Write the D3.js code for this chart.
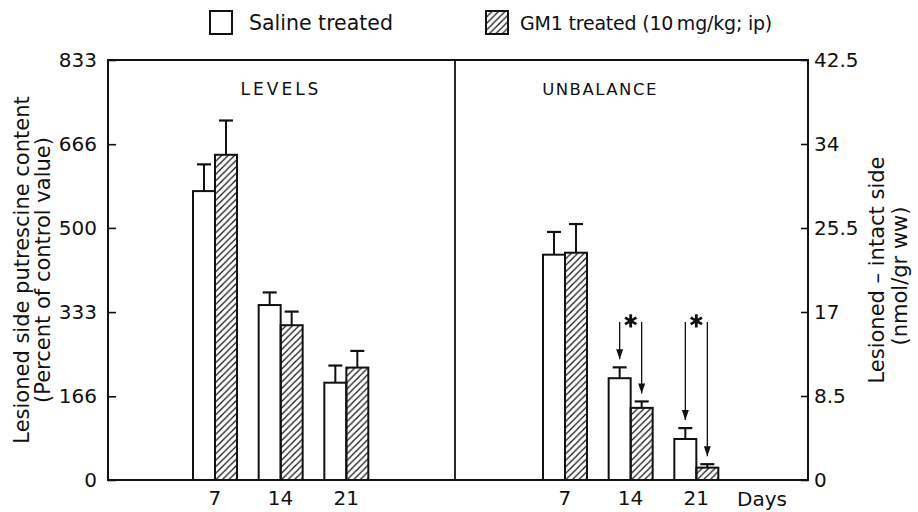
<!DOCTYPE html>
<html>
<head>
<meta charset="utf-8">
<script src="https://cdn.jsdelivr.net/npm/d3@7"></script>
<style>
  body { margin: 0; background: #fff; }
  text { font-family: "DejaVu Sans", sans-serif; fill: #111; }
</style>
</head>
<body>
<div id="chart"></div>
<script>
// values
var days = [7, 14, 21];
var seriesNames = ["saline", "gm1"];
var legendLabels = ["Saline treated", "GM1 treated (10\u2009mg/kg; ip)"];

var levelsSaline = [573, 347, 193];
var levelsSalineSem = [53, 25, 34];
var levelsGM1 = [645, 307, 223];
var levelsGM1Sem = [68, 27, 33];

var unbalSaline = [22.8, 10.3, 4.15];
var unbalSalineSem = [2.3, 1.1, 1.1];
var unbalGM1 = [23.0, 7.3, 1.25];
var unbalGM1Sem = [2.9, 0.65, 0.35];

var sigDays = [14, 21];
var sigArrowTop = 16;

var leftTicks = [0, 166, 333, 500, 666, 833];
var rightTicks = [0, 8.5, 17, 25.5, 34, 42.5];

var width = 918, height = 512;
var margin = {top: 60, right: 110, bottom: 32, left: 108};
var plotRight = width - margin.right,
    plotBottom = height - margin.bottom,
    divider = 455;

var svg = d3.select("#chart").append("svg")
    .attr("width", width)
    .attr("height", height);

var defs = svg.append("defs");
defs.append("pattern")
    .attr("id", "hatch")
    .attr("patternUnits", "userSpaceOnUse")
    .attr("width", 6.5)
    .attr("height", 6.5)
  .append("path")
    .attr("d", "M-1,1 l2,-2 M0,6.5 l6.5,-6.5 M5.5,7.5 l2,-2")
    .attr("stroke", "#111")
    .attr("stroke-width", 1.2);
defs.append("marker")
    .attr("id", "arrow")
    .attr("markerUnits", "userSpaceOnUse")
    .attr("viewBox", "0 0 10 7")
    .attr("markerWidth", 10)
    .attr("markerHeight", 7)
    .attr("refX", 10)
    .attr("refY", 3.5)
    .attr("orient", "auto")
  .append("path")
    .attr("d", "M0,0 L10,3.5 L0,7 z")
    .attr("fill", "#111");

var yL = d3.scaleLinear().domain([0, 833]).range([plotBottom, margin.top]);
var yR = d3.scaleLinear().domain([0, 42.5]).range([plotBottom, margin.top]);

var xLeft = d3.scaleBand().domain(days).range([182, 379]);
var xRight = d3.scaleBand().domain(days).range([532, 729]);
var xSub = d3.scaleBand().domain(seriesNames).range([11, 55]);

function rows(mean, sem) {
  return days.map(function (d, i) { return {day: d, saline: mean[0][i], salineSem: sem[0][i], gm1: mean[1][i], gm1Sem: sem[1][i]}; });
}
var levelsData = rows([levelsSaline, levelsGM1], [levelsSalineSem, levelsGM1Sem]);
var unbalData = rows([unbalSaline, unbalGM1], [unbalSalineSem, unbalGM1Sem]);

function drawBars(data, x, y) {
  var g = svg.append("g");
  var groups = g.selectAll("g.day")
      .data(data)
      .enter().append("g")
      .attr("class", "day")
      .attr("transform", function (d) { return "translate(" + x(d.day) + ",0)"; });
  seriesNames.forEach(function (s) {
    // error bar
    groups.append("line")
        .attr("x1", xSub(s) + xSub.bandwidth() / 2)
        .attr("x2", xSub(s) + xSub.bandwidth() / 2)
        .attr("y1", function (d) { return y(d[s]); })
        .attr("y2", function (d) { return y(d[s] + d[s + "Sem"]); })
        .attr("stroke", "#111").attr("stroke-width", 2);
    groups.append("line")
        .attr("x1", xSub(s) + xSub.bandwidth() / 2 - 7)
        .attr("x2", xSub(s) + xSub.bandwidth() / 2 + 7)
        .attr("y1", function (d) { return y(d[s] + d[s + "Sem"]); })
        .attr("y2", function (d) { return y(d[s] + d[s + "Sem"]); })
        .attr("stroke", "#111").attr("stroke-width", 2.2);
    groups.append("rect")
        .attr("x", xSub(s))
        .attr("width", xSub.bandwidth())
        .attr("y", function (d) { return y(d[s]); })
        .attr("height", function (d) { return y(0) - y(d[s]); })
        .attr("fill", s == "gm1" ? "url(#hatch)" : "#fff")
        .attr("stroke", "#111")
        .attr("stroke-width", 2);
  });
  return groups;
}

drawBars(levelsData, xLeft, yL);
var ub = drawBars(unbalData, xRight, yR);

// significance arrows + asterisks
ub.filter(function (d) { return sigDays.indexOf(d.day) >= 0; }).each(function (d) {
  var grp = d3.select(this);
  seriesNames.forEach(function (s) {
    var cx = xSub(s) + xSub.bandwidth() / 2;
    grp.append("line")
        .attr("x1", cx).attr("x2", cx)
        .attr("y1", yR(sigArrowTop))
        .attr("y2", yR(d[s] + d[s + "Sem"]) - 8)
        .attr("stroke", "#111")
        .attr("stroke-width", 1.3)
        .attr("marker-end", "url(#arrow)");
  });
  grp.append("path")
      .attr("d", d3.symbol(d3.symbolAsterisk, 120)())
      .attr("transform", "translate(" + (xSub.range()[0] + (xSub.range()[1] - xSub.range()[0]) / 2) + "," + (yR(sigArrowTop) - 1) + ")")
      .attr("stroke", "#111")
      .attr("stroke-width", 2.8)
      .attr("fill", "none");
});

// frame
svg.append("rect")
    .attr("x", margin.left).attr("y", margin.top)
    .attr("width", plotRight - margin.left)
    .attr("height", plotBottom - margin.top)
    .attr("fill", "none")
    .attr("stroke", "#111")
    .attr("stroke-width", 2);
svg.append("line")
    .attr("x1", divider).attr("x2", divider)
    .attr("y1", margin.top).attr("y2", plotBottom)
    .attr("stroke", "#111").attr("stroke-width", 1.8);

// axes
var yAxisL = d3.axisLeft(yL).tickValues(leftTicks).tickSizeInner(-8).tickSizeOuter(0).tickPadding(11);
var yAxisR = d3.axisRight(yR).tickValues(rightTicks).tickSizeInner(-7).tickSizeOuter(0).tickPadding(6)
    .tickFormat(function (d) { return String(d); });

var gl = svg.append("g").attr("transform", "translate(" + margin.left + ",0)").call(yAxisL);
var gr = svg.append("g").attr("transform", "translate(" + plotRight + ",0)").call(yAxisR);
[gl, gr].forEach(function (g) {
  g.select(".domain").remove();
  g.selectAll("line").attr("stroke", "#111").attr("stroke-width", 1.6);
  g.selectAll("text").attr("font-size", 20).attr("font-family", "DejaVu Sans").attr("fill", "#111");
});

[xLeft, xRight].forEach(function (x) {
  var g = svg.append("g")
      .attr("transform", "translate(0," + plotBottom + ")")
      .call(d3.axisBottom(x).tickSize(0).tickPadding(11));
  g.select(".domain").remove();
  g.selectAll("text").attr("font-size", 20).attr("font-family", "DejaVu Sans").attr("fill", "#111");
});

svg.append("text")
    .attr("x", 737).attr("y", plotBottom + 26)
    .attr("font-size", 20)
    .text("Days");

// panel titles
svg.append("text")
    .attr("x", 281).attr("y", 95)
    .attr("text-anchor", "middle")
    .attr("font-size", 17)
    .attr("letter-spacing", 3)
    .text("LEVELS");
svg.append("text")
    .attr("x", 600).attr("y", 95)
    .attr("text-anchor", "middle")
    .attr("font-size", 16.5)
    .attr("letter-spacing", 1.5)
    .text("UNBALANCE");

// axis titles
var midY = (margin.top + plotBottom) / 2;
svg.append("text")
    .attr("transform", "translate(29," + midY + ") rotate(-90)")
    .attr("text-anchor", "middle")
    .attr("font-size", 21)
    .text("Lesioned side putrescine content");
svg.append("text")
    .attr("transform", "translate(50," + midY + ") rotate(-90)")
    .attr("text-anchor", "middle")
    .attr("font-size", 21)
    .text("(Percent of control value)");
svg.append("text")
    .attr("transform", "translate(884," + midY + ") rotate(-90)")
    .attr("text-anchor", "middle")
    .attr("font-size", 21)
    .text("Lesioned \u2013 intact side");
svg.append("text")
    .attr("transform", "translate(907," + (midY + 6) + ") rotate(-90)")
    .attr("text-anchor", "middle")
    .attr("font-size", 21)
    .text("(nmol/gr ww)");

// legend
var legendX = [210, 486];
var legend = svg.selectAll("g.legend")
    .data(seriesNames)
    .enter().append("g")
    .attr("class", "legend")
    .attr("transform", function (d, i) { return "translate(" + legendX[i] + ",11)"; });
legend.append("rect")
    .attr("width", 22).attr("height", 23)
    .attr("fill", function (d) { return d == "gm1" ? "url(#hatch)" : "#fff"; })
    .attr("stroke", "#111")
    .attr("stroke-width", 2);
legend.append("text")
    .attr("x", function (d, i) { return i == 0 ? 39 : 34; })
    .attr("y", 19)
    .attr("font-size", function (d, i) { return i == 0 ? 20.5 : 19; })
    .attr("letter-spacing", function (d, i) { return i == 0 ? 0 : -0.2; })
    .text(function (d, i) { return legendLabels[i]; });
</script>
</body>
</html>
